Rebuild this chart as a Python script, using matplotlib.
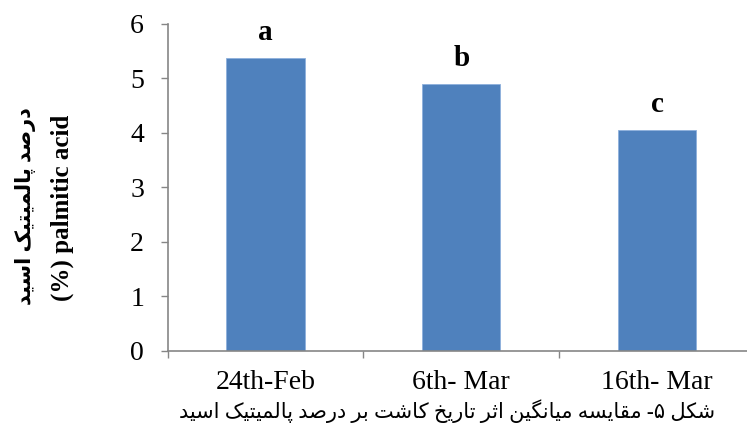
import matplotlib
matplotlib.use("Agg")
import matplotlib.pyplot as plt

# planting dates and mean palmitic acid content (%)
dates = ["24th-Feb", "6th- Mar", "16th- Mar"]
palmitic = [5.38, 4.89, 4.05]
groups = ["a", "b", "c"]

ylabel_fa = "درصد پالمیتیک اسید"
ylabel_en = "(%) palmitic acid"
caption_fa = "شکل ۵- مقایسه میانگین اثر تاریخ کاشت بر درصد پالمیتیک اسید"

# presentation forms: isolated, final, initial, medial
FORMS = {
    "ا": ("\uFE8D", "\uFE8E"),
    "د": ("\uFEA9", "\uFEAA"),
    "ر": ("\uFEAD", "\uFEAE"),
    "ب": ("\uFE8F", "\uFE90", "\uFE91", "\uFE92"),
    "پ": ("\uFB56", "\uFB57", "\uFB58", "\uFB59"),
    "ت": ("\uFE95", "\uFE96", "\uFE97", "\uFE98"),
    "ث": ("\uFE99", "\uFE9A", "\uFE9B", "\uFE9C"),
    "خ": ("\uFEA5", "\uFEA6", "\uFEA7", "\uFEA8"),
    "س": ("\uFEB1", "\uFEB2", "\uFEB3", "\uFEB4"),
    "ش": ("\uFEB5", "\uFEB6", "\uFEB7", "\uFEB8"),
    "ص": ("\uFEB9", "\uFEBA", "\uFEBB", "\uFEBC"),
    "ق": ("\uFED5", "\uFED6", "\uFED7", "\uFED8"),
    "ک": ("\uFB8E", "\uFB8F", "\uFB90", "\uFB91"),
    "گ": ("\uFB92", "\uFB93", "\uFB94", "\uFB95"),
    "ل": ("\uFEDD", "\uFEDE", "\uFEDF", "\uFEE0"),
    "م": ("\uFEE1", "\uFEE2", "\uFEE3", "\uFEE4"),
    "ن": ("\uFEE5", "\uFEE6", "\uFEE7", "\uFEE8"),
    "ه": ("\uFEE9", "\uFEEA", "\uFEEB", "\uFEEC"),
    "ی": ("\uFBFC", "\uFBFD", "\uFBFE", "\uFBFF"),
}


def shape_fa(s):
    # join letters by hand and flip to visual order
    out = []
    for i, ch in enumerate(s):
        if ch not in FORMS:
            out.append(ch)
            continue
        prev = s[i - 1] if i > 0 else ""
        nxt = s[i + 1] if i + 1 < len(s) else ""
        jp = prev in FORMS and len(FORMS[prev]) == 4
        jn = len(FORMS[ch]) == 4 and nxt in FORMS
        f = FORMS[ch]
        if jp and jn:
            out.append(f[3])
        elif jp:
            out.append(f[1])
        elif jn:
            out.append(f[2])
        else:
            out.append(f[0])
    return "".join(out)[::-1]


serif = ["Liberation Serif", "DejaVu Sans"]
plt.rcParams["font.family"] = serif

fig = plt.figure(figsize=(7.47, 4.32), dpi=100)
ax = fig.add_axes([0.2245, 0.1875, 0.786, 0.757])

x = [1, 2, 3]
bars = ax.bar(x, palmitic, width=0.4, color="#4F81BD", edgecolor="#8EB0DC", linewidth=0.6)
for b, g in zip(bars, groups):
    ax.text(b.get_x() + b.get_width() / 2, b.get_height() + 0.22, g,
            ha="center", va="bottom", fontsize=21, fontweight="bold")

ax.set_xlim(0.5, 3.5)
ax.set_ylim(0, 6)
ax.set_yticks(range(0, 7))
ax.set_xticks([0.5, 1.5, 2.5, 3.5])
ax.set_xticklabels([])
ax.set_xticks(x, minor=True)
ax.set_xticklabels(dates, minor=True, fontsize=20)
ax.tick_params(axis="x", which="minor", length=0, pad=14)
ax.tick_params(axis="x", which="major", length=5, width=1, color="#868686", direction="out")
ax.tick_params(axis="y", length=5, width=1, color="#868686", labelsize=20, pad=12)

for side in ["top", "right"]:
    ax.spines[side].set_visible(False)
for side in ["left", "bottom"]:
    ax.spines[side].set_color("#868686")
    ax.spines[side].set_linewidth(1.2)

fig.text(26 / 747, 1 - 206 / 432, shape_fa(ylabel_fa), rotation=90, ha="center", va="center",
         fontsize=15, fontweight="bold", family=serif)
fig.text(62 / 747, 1 - 208 / 432, ylabel_en, rotation=90, ha="center", va="center",
         fontsize=18, fontweight="bold", family=serif)

fig.text(447 / 747, 1 - 411 / 432, shape_fa(caption_fa), ha="center", va="center",
         fontsize=15, family=serif)

fig.savefig("out.png", dpi=100)
